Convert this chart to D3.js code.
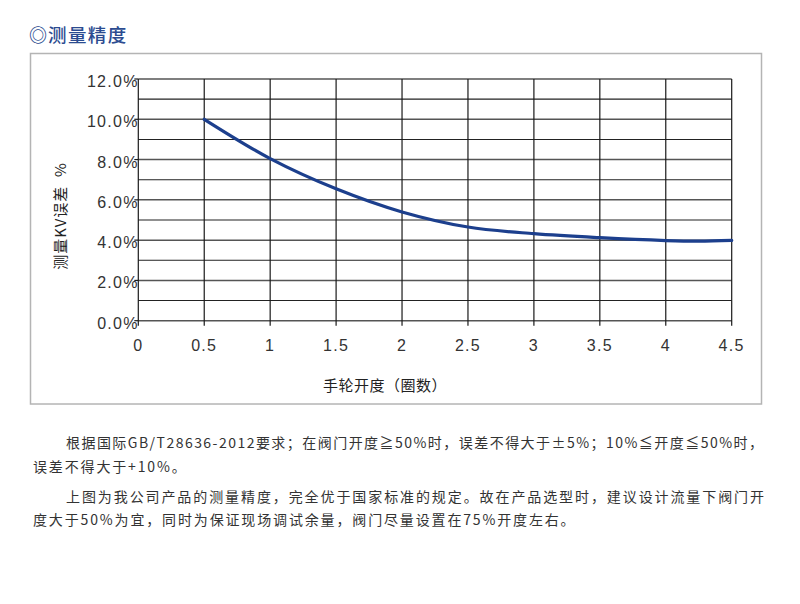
<!DOCTYPE html>
<html><head><meta charset="utf-8">
<script src="https://cdn.jsdelivr.net/npm/d3@7"></script>
<style>body{margin:0;background:#fff}svg{display:block}</style>
</head><body>
<svg id="chart" width="800" height="604"></svg>
<script>
const turns = [0.5, 1, 1.5, 2, 2.5, 3, 3.5, 4, 4.25, 4.5];
const kvError = [10.0, 8.05, 6.55, 5.4, 4.65, 4.32, 4.12, 3.98, 3.95, 3.99];
const xTicks = [0, 0.5, 1, 1.5, 2, 2.5, 3, 3.5, 4, 4.5];
const yTicks = [0, 2, 4, 6, 8, 10, 12];
const yGrid = d3.range(0, 13, 1);
const title = "测量精度";
const xTitle = "手轮开度（圈数）";
const yTitle = "测量KV误差  %";
const paragraphs = [
  {x: 66, y: 448, w: 697, t: "根据国际GB/T28636-2012要求；在阀门开度≧50%时，误差不得大于±5%；10%≦开度≦50%时，"},
  {x: 33, y: 472, w: null, t: "误差不得大于+10%。"},
  {x: 66, y: 502, w: 698, t: "上图为我公司产品的测量精度，完全优于国家标准的规定。故在产品选型时，建议设计流量下阀门开"},
  {x: 33, y: 525, w: null, t: "度大于50%为宜，同时为保证现场调试余量，阀门尽量设置在75%开度左右。"}
];

const svg = d3.select("#chart");
const x = d3.scaleLinear().domain([0, 4.5]).range([138.3, 731.7]);
const y = d3.scaleLinear().domain([0, 12]).range([320.7, 79]);

// title
svg.append("text").attr("x", 29).attr("y", 42).attr("font-family", "Noto Sans CJK SC")
  .attr("font-size", 18).attr("font-weight", 700).attr("fill", "#2b4b90").text("◎");
svg.append("text").attr("x", 48).attr("y", 41.5).attr("font-family", "Noto Sans CJK SC")
  .attr("font-size", 18.5).attr("font-weight", 500).attr("letter-spacing", 1.4).attr("fill", "#2b4b90").text(title);

// frame box
svg.append("rect").attr("x", 30.5).attr("y", 53.5).attr("width", 731).attr("height", 350.5)
  .attr("fill", "none").attr("stroke", "#b4b4b4").attr("stroke-width", 1.5);

const g = svg.append("g");
g.selectAll("line.h").data(yGrid).join("line")
  .attr("x1", x(0)).attr("x2", x(4.5))
  .attr("y1", d => y(d)).attr("y2", d => y(d))
  .attr("stroke", d => d % 2 === 0 ? "#555" : "#222")
  .attr("stroke-width", d => d % 2 === 0 ? 1.5 : 1.1);
g.selectAll("line.v").data(xTicks).join("line")
  .attr("x1", d => x(d)).attr("x2", d => x(d))
  .attr("y1", y(12)).attr("y2", y(0) + 5)
  .attr("stroke", "#1a1a1a").attr("stroke-width", 1.2);
g.selectAll("line.yt").data(yTicks).join("line")
  .attr("x1", x(0) - 4).attr("x2", x(0))
  .attr("y1", d => y(d)).attr("y2", d => y(d))
  .attr("stroke", "#1a1a1a").attr("stroke-width", 1.2);

g.selectAll("text.yl").data(yTicks).join("text")
  .attr("x", x(0) + 0.5).attr("y", d => y(d) + 8)
  .attr("text-anchor", "end").attr("font-family", "Liberation Sans, Arial")
  .attr("font-size", 16).attr("letter-spacing", 1.3).attr("fill", "#333")
  .text(d => d.toFixed(1) + "%");
g.selectAll("text.xl").data(xTicks).join("text")
  .attr("x", d => x(d)).attr("y", 350.5)
  .attr("text-anchor", "middle").attr("font-family", "Liberation Sans, Arial")
  .attr("font-size", 16).attr("letter-spacing", 1.3).attr("fill", "#333")
  .text(d => String(d));

const line = d3.line().x((d, i) => x(turns[i])).y(d => y(d)).curve(d3.curveCatmullRom.alpha(0.5));
svg.append("path").attr("d", line(kvError)).attr("fill", "none")
  .attr("stroke", "#1c3f8d").attr("stroke-width", 3.2).attr("stroke-linecap", "round");

svg.append("text").attr("x", 385).attr("y", 391).attr("text-anchor", "middle")
  .attr("font-family", "Noto Sans CJK SC").attr("font-size", 15).attr("letter-spacing", 0.5).attr("fill", "#222").text(xTitle);
svg.append("text").attr("transform", "translate(66,216) rotate(-90)").attr("text-anchor", "middle")
  .attr("font-family", "Noto Sans CJK SC").attr("font-size", 15).attr("letter-spacing", 1).attr("fill", "#222")
  .style("white-space", "pre").text(yTitle);

svg.selectAll("text.p").data(paragraphs).join("text")
  .attr("x", d => d.x).attr("y", d => d.y)
  .attr("font-family", "Noto Sans CJK SC").attr("font-size", 14).attr("fill", "#333")
  .each(function(d) {
    const s = d3.select(this);
    if (d.w) s.attr("textLength", d.w).attr("lengthAdjust", "spacing");
    else s.attr("letter-spacing", 1.85);
  })
  .text(d => d.t);
</script>
</body></html>
